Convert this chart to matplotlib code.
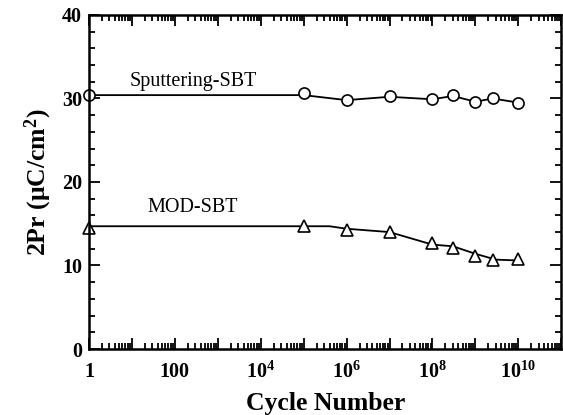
import matplotlib
matplotlib.use("Agg")
import matplotlib.pyplot as plt
from matplotlib.ticker import LogLocator, NullFormatter, MultipleLocator
import numpy as np

plt.rcParams["font.family"] = "Liberation Serif"
plt.rcParams["mathtext.fontset"] = "custom"
plt.rcParams["mathtext.rm"] = "Liberation Serif"
plt.rcParams["mathtext.bf"] = "Liberation Serif:bold"
plt.rcParams["mathtext.it"] = "Liberation Serif:italic"

# cycles and 2Pr values
cycles = [1, 1e5, 1e6, 1e7, 1e8, 3e8, 1e9, 2.5e9, 1e10]
sput_pr = [30.4, 30.6, 29.8, 30.3, 29.9, 30.4, 29.6, 30.1, 29.5]
mod_pr = [14.5, 14.7, 14.3, 14.0, 12.7, 12.1, 11.1, 10.7, 10.8]

# guide lines drawn through the data in the original
sput_fit_x = [1, 1e5, 1e6, 1e7, 1e8, 3e8, 1e9, 2.5e9, 1e10]
sput_fit_y = [30.4, 30.4, 29.8, 30.2, 29.9, 30.3, 29.6, 30.0, 29.5]
mod_fit_x = [1, 1e5, 4e5, 1e6, 1e7, 1e8, 3e8, 1e9, 3e9, 1e10]
mod_fit_y = [14.7, 14.7, 14.7, 14.4, 14.0, 12.5, 12.3, 11.4, 10.7, 10.6]

xlabels = ["1", "", "100", "", r"$\mathbf{10^{4}}$", "",
           r"$\mathbf{10^{6}}$", "", r"$\mathbf{10^{8}}$", "",
           r"$\mathbf{10^{10}}$", ""]

fig = plt.figure(figsize=(5.63, 4.15), dpi=100)
ax = fig.add_axes([0.158, 0.159, 0.839, 0.805])

ax.plot(sput_fit_x, sput_fit_y, color="black", lw=1.3)
ax.plot(mod_fit_x, mod_fit_y, color="black", lw=1.3)
ax.plot(cycles, sput_pr, ls="none", marker="o", ms=8, mfc="white",
        mec="black", mew=1.2, clip_on=False)
ax.plot(cycles, mod_pr, ls="none", marker="^", ms=8, mfc="white",
        mec="black", mew=1.2, clip_on=False)

ax.set_xscale("log")
ax.set_xlim(1, 1e11)
ax.set_ylim(0, 40)

ax.set_xticks([10.0 ** k for k in range(12)])
ax.set_xticklabels(xlabels)
ax.xaxis.set_minor_locator(LogLocator(base=10, subs=np.arange(2, 10), numticks=30))
ax.xaxis.set_minor_formatter(NullFormatter())
ax.yaxis.set_major_locator(MultipleLocator(10))
ax.yaxis.set_minor_locator(MultipleLocator(2))

ax.tick_params(which="both", direction="in", top=True, right=True,
               labelsize=14.5, width=1.3)
ax.tick_params(which="major", length=8)
ax.tick_params(which="minor", length=4)
ax.tick_params(axis="x", pad=9)
ax.tick_params(axis="y", pad=5)
for lab in ax.get_xticklabels() + ax.get_yticklabels():
    lab.set_fontweight("bold")
for sp in ax.spines.values():
    sp.set_linewidth(1.8)

ax.text(265, 32.0, "Sputtering-SBT", ha="center", va="center", fontsize=14.5)
ax.text(265, 16.9, "MOD-SBT", ha="center", va="center", fontsize=14.5)

ax.set_xlabel("Cycle Number", fontsize=18.5, fontweight="bold", labelpad=7)
ax.set_ylabel(r"2Pr ($\mathbf{\mu}$C/cm$^\mathbf{2}$)", fontsize=18.5,
              fontweight="bold", labelpad=6)

fig.savefig("out.png", dpi=100)
